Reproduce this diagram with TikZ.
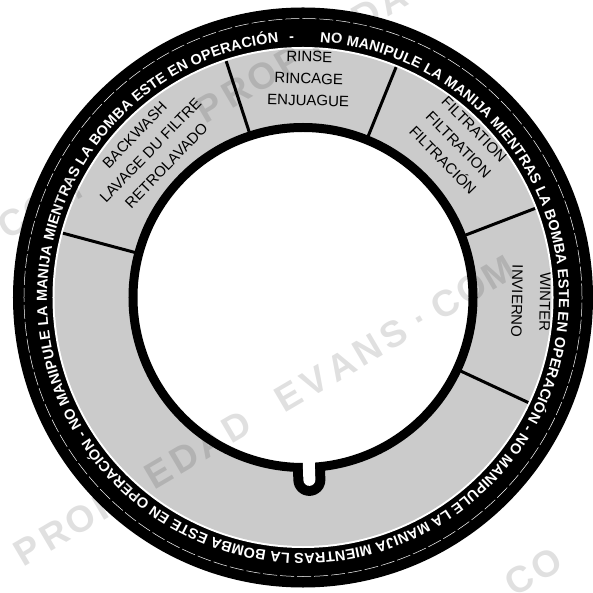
\documentclass[tikz,border=0pt]{standalone}
\usepackage{fontspec}
\setmainfont{Liberation Sans}
\usetikzlibrary{decorations.text,calc}

\definecolor{ringgray}{RGB}{203,203,203}

\tikzset{
  divider/.style={line width=3pt},
  sectorlabel/.style={font=\fontsize{15}{22}\selectfont, align=center, inner sep=0pt},
  watermark/.style={text=black, text opacity=0.12, font=\fontsize{37}{37}\selectfont\bfseries, inner sep=0pt, rotate=30.5},
}

% one row of the faint watermark, letter by letter
\newcommand{\wmrow}[3]{%
  \foreach \ch [count=\i from 0] in {#3}
    \node[watermark] (#2-\i) at ($(#1)+(30.5:{\i*30.3pt})$) {\ch};%
}

\begin{document}
\begin{tikzpicture}
\useasboundingbox (-303pt,-295.5pt) rectangle (290pt,297.5pt);

% Outer black band with white rule inside
\fill[black] (0,0) circle (290pt);
\fill[white] (0,0) circle (250.5pt);
\fill[ringgray] (0,0) circle (248.5pt);

% Dashed rule in the band
\draw[white, line width=0.5pt, dash pattern=on 14pt off 3pt] (0,0) circle (279pt);

% Warning text round the band
\path[decorate, decoration={text along path, text align=fit to path, text color=white,
  text={|\fontsize{14.5}{14.5}\selectfont\bfseries|NO MANIPULE LA MANIJA MIENTRAS LA BOMBA ESTE EN OPERACIÓN - NO MANIPULE LA MANIJA MIENTRAS LA BOMBA ESTE EN OPERACIÓN - NO MANIPULE LA MANIJA MIENTRAS LA BOMBA ESTE EN OPERACIÓN}}]
  (86.2:256pt) arc[start angle=86.2, end angle=-264.5, radius=256pt];
\node[text=white, font=\fontsize{14.5}{14.5}\selectfont\bfseries, rotate=2.5, anchor=base, inner sep=0pt] (sep) at (92.5:256pt) {-};

% Sector dividers
\foreach \a in {165,108,68,21,-25}
  \draw[divider] (\a:170pt) -- (\a:248.5pt);

% Notch below the inner disc
\draw[line width=32pt, line cap=round] (-88:170pt) -- (-88:182.5pt);

% Inner disc
\draw[line width=9pt, fill=white] (0,0) circle (170pt);
\draw[white, line width=12pt, line cap=round] (-88:160pt) -- (-88:182.5pt);

% Sector labels
\node[sectorlabel, rotate=46] (backwash) at (136:212pt) {BACKWASH\\LAVAGE DU FILTRE\\RETROLAVADO};
\node[sectorlabel, rotate=-1.5] (rinse) at (88.5:219pt) {RINSE\\RINCAGE\\ENJUAGUE};
\node[sectorlabel, rotate=-45.5] (filtration) at (44.5:218pt) {FILTRATION\\FILTRATION\\FILTRACIÓN};
\node[sectorlabel, rotate=-91] (winter) at (-1:228pt) {WINTER\\[6pt]INVIERNO};

% Watermark
\coordinate (wm1) at (-275pt,-252.5pt);
\coordinate (wm2) at (-93pt,190.5pt);
\coordinate (wm3) at (217pt,-282pt);
\wmrow{wm1}{wma}{P,R,O,P,I,E,D,A,D,{},E,V,A,N,S,.,C,O,M}
\wmrow{wm2}{wmb}{P,R,O,P,I,E,D,A,D}
\coordinate (wm2b) at ($(wm2)+(30.5:-229pt)$);
\wmrow{wm2b}{wmc}{C,O,M}
\wmrow{wm3}{wmd}{C,O}

\end{tikzpicture}
\end{document}
